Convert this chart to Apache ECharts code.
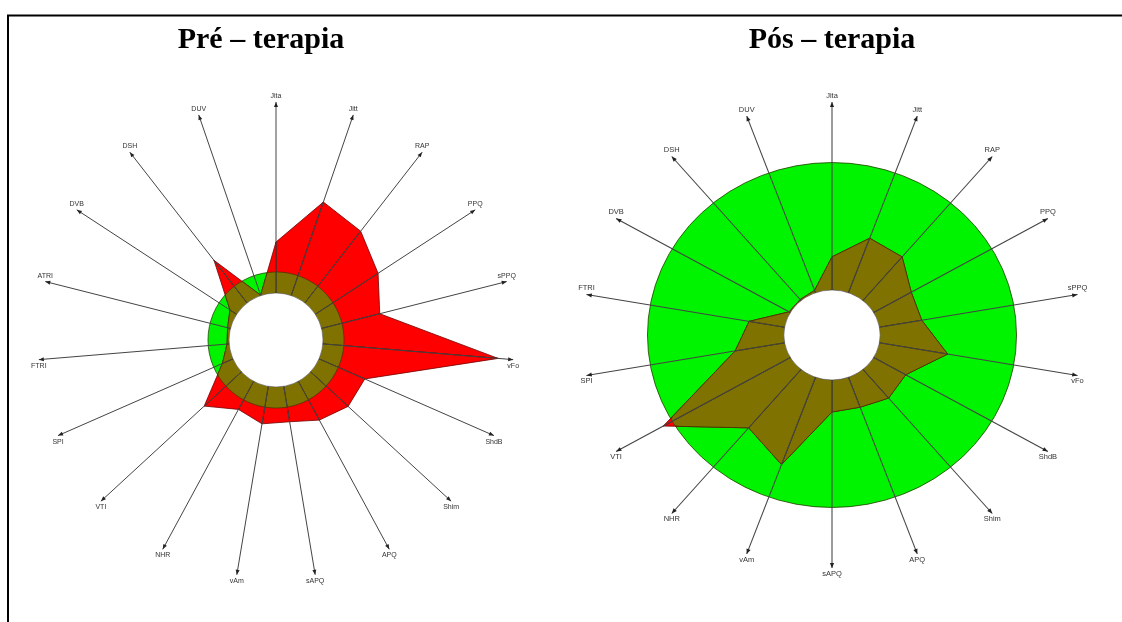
<!DOCTYPE html>
<html>
<head>
<meta charset="utf-8">
<title>MDVP - Pré / Pós terapia</title>
<script src="https://cdn.jsdelivr.net/npm/echarts@6/dist/echarts.min.js"></script>
<style>
  html, body { margin: 0; padding: 0; background: #fff; }
  #chart { width: 1122px; height: 622px; }
</style>
</head>
<body>
<div id="chart"></div>
<script>
// parametros MDVP, sentido horario a partir do topo
var paramsPre = ['Jita', 'Jitt', 'RAP', 'PPQ', 'sPPQ', 'vFo', 'ShdB', 'Shim', 'APQ', 'sAPQ', 'vAm', 'NHR', 'VTI', 'SPI', 'FTRI', 'ATRI', 'DVB', 'DSH', 'DUV'];
var paramsPos = ['Jita', 'Jitt', 'RAP', 'PPQ', 'sPPQ', 'vFo', 'ShdB', 'Shim', 'APQ', 'sAPQ', 'vAm', 'NHR', 'VTI', 'SPI', 'FTRI', 'DVB', 'DSH', 'DUV'];

// valores normalizados (1 = limiar da norma, circulo verde)
var valuesPre = [2.43, 4.71, 4.33, 3.57, 2.86, 8.38, 2.38, 2.43, 2.10, 1.71, 1.81, 1.52, 2.41, 0.55, 0.10, 0.14, 0.38, 2.57, 0.02];
var valuesPos = [0.26, 0.455, 0.447, 0.318, 0.315, 0.508, 0.271, 0.293, 0.25, 0.251, 0.729, 0.598, 1.075, 0.368, 0.264, 0.01, 0.01, 0.02];

var limitPre = 1;
var limitPos = 1;
var axisMaxPre = 9.1;
var axisMaxPos = 1.475;
var titles = ['Pré – terapia', 'Pós – terapia'];

// layout dos dois paineis
var panels = [
  { center: [276, 340], radius: [47, 238], stretch: 1, titleX: 261 },
  { center: [832, 335], radius: [45, 233], stretch: 1.07, titleX: 832 }
];

var GREEN = '#00f400', RED = '#ff0000', OLIVE = '#807200';

function dist(c, p) { return Math.sqrt((p[0] - c[0]) * (p[0] - c[0]) + (p[1] - c[1]) * (p[1] - c[1])); }

function wrap(params, k, children) {
  var cs = params.coordSys;
  var cx = cs && cs.cx != null ? cs.cx : panels[k].center[0];
  var cy = cs && cs.cy != null ? cs.cy : panels[k].center[1];
  return {
    type: 'group',
    scaleX: panels[k].stretch, scaleY: 1,
    originX: cx, originY: cy,
    children: children
  };
}

function centerOf(params, k) {
  var cs = params.coordSys;
  if (cs && cs.cx != null) return [cs.cx, cs.cy];
  return panels[k].center;
}

function makeSeries(k, cats, vals, limit, axisMax) {
  var n = cats.length;
  var list = [];

  // circulo verde do limiar
  list.push({
    type: 'custom', coordinateSystem: 'polar', polarIndex: k, z: 1, clip: false, silent: true,
    data: [[limit, 0]],
    renderItem: function (params, api) {
      var c = centerOf(params, k);
      var R = dist(c, api.coord([api.value(0), 0]));
      return wrap(params, k, [{
        type: 'circle', shape: { cx: c[0], cy: c[1], r: R },
        style: { fill: GREEN, stroke: '#224400', lineWidth: 0.8 }
      }]);
    }
  });

  // poligono dos valores (vermelho fora da norma)
  list.push({
    type: 'custom', coordinateSystem: 'polar', polarIndex: k, z: 2, clip: false, silent: true,
    data: vals.map(function (v, i) { return [v, i]; }),
    renderItem: function (params, api) {
      var i = params.dataIndex, j = (i + 1) % n;
      var pts = [api.coord([0, i]), api.coord([api.value(0), i]), api.coord([api.value(0, j), i + 1]), api.coord([0, i + 1])];
      return wrap(params, k, [{
        type: 'polygon', shape: { points: pts },
        style: { fill: RED, stroke: '#700000', lineWidth: 0.8 }
      }]);
    }
  });

  // parte do poligono dentro do limiar (oliva)
  list.push({
    type: 'custom', coordinateSystem: 'polar', polarIndex: k, z: 3, clip: false, silent: true,
    data: vals.map(function (v, i) { return [v, i]; }),
    renderItem: function (params, api) {
      var c = centerOf(params, k);
      var i = params.dataIndex, j = (i + 1) % n;
      var RT = dist(c, api.coord([limit, i]));
      var a = api.coord([api.value(0), i]);
      var b = api.coord([api.value(0, j), i + 1]);
      var pts = [api.coord([0, i])];
      var steps = 16;
      for (var s = 0; s <= steps; s++) {
        var t = s / steps;
        var p = [a[0] + (b[0] - a[0]) * t, a[1] + (b[1] - a[1]) * t];
        var d = dist(c, p);
        if (d > RT) p = [c[0] + (p[0] - c[0]) * RT / d, c[1] + (p[1] - c[1]) * RT / d];
        pts.push(p);
      }
      pts.push(api.coord([0, i + 1]));
      return wrap(params, k, [{
        type: 'polygon', shape: { points: pts },
        style: { fill: OLIVE, stroke: '#3a3300', lineWidth: 0.7 }
      }]);
    }
  });

  // furo central
  list.push({
    type: 'custom', coordinateSystem: 'polar', polarIndex: k, z: 4, clip: false, silent: true,
    data: [[0, 0]],
    renderItem: function (params, api) {
      var c = centerOf(params, k);
      var r0 = dist(c, api.coord([0, 0]));
      return wrap(params, k, [{
        type: 'circle', shape: { cx: c[0], cy: c[1], r: r0 },
        style: { fill: '#fff', stroke: '#555', lineWidth: 0.6 }
      }]);
    }
  });

  // eixos com setas e rotulos
  list.push({
    type: 'custom', coordinateSystem: 'polar', polarIndex: k, z: 5, clip: false, silent: true,
    data: cats.map(function (c, i) { return [axisMax, i, c]; }),
    renderItem: function (params, api) {
      var c = centerOf(params, k);
      var i = params.dataIndex;
      var s = api.coord([0, i]);
      var e = api.coord([api.value(0), i]);
      var L = dist(s, e);
      var u = [(e[0] - s[0]) / L, (e[1] - s[1]) / L];
      var w = [-u[1], u[0]];
      var head = [e,
        [e[0] - 5 * u[0] + 2 * w[0], e[1] - 5 * u[1] + 2 * w[1]],
        [e[0] - 5 * u[0] - 2 * w[0], e[1] - 5 * u[1] - 2 * w[1]]];
      var above = e[1] < c[1];
      return wrap(params, k, [
        { type: 'line', shape: { x1: s[0], y1: s[1], x2: e[0], y2: e[1] }, style: { stroke: '#444', lineWidth: 1 } },
        { type: 'polygon', shape: { points: head }, style: { fill: '#222' } },
        {
          type: 'text',
          style: {
            text: cats[i], x: e[0], y: above ? e[1] - 2.5 : e[1] + 2.5,
            align: 'center', verticalAlign: above ? 'bottom' : 'top',
            fill: '#333', font: '7px "Liberation Sans", Arial, sans-serif'
          }
        }
      ]);
    }
  });

  return list;
}

var chart = echarts.init(document.getElementById('chart'), null, { renderer: 'canvas' });

var option = {
  backgroundColor: '#fff',
  animation: false,
  title: titles.map(function (t, k) {
    return {
      text: t, left: panels[k].titleX, top: 25, textAlign: 'center', padding: 0,
      textStyle: { fontFamily: '"Liberation Serif", "Times New Roman", serif', fontWeight: 'bold', fontSize: 30, color: '#000' }
    };
  }),
  polar: panels.map(function (p) { return { center: p.center, radius: p.radius }; }),
  angleAxis: [
    { polarIndex: 0, type: 'value', min: 0, max: paramsPre.length, startAngle: 90, clockwise: true, show: false },
    { polarIndex: 1, type: 'value', min: 0, max: paramsPos.length, startAngle: 90, clockwise: true, show: false }
  ],
  radiusAxis: [
    { polarIndex: 0, type: 'value', min: 0, max: axisMaxPre, show: false },
    { polarIndex: 1, type: 'value', min: 0, max: axisMaxPos, show: false }
  ],
  graphic: [
    { type: 'line', shape: { x1: 7, y1: 15.5, x2: 1122, y2: 15.5 }, style: { stroke: '#000', lineWidth: 2 } },
    { type: 'line', shape: { x1: 8, y1: 15, x2: 8, y2: 622 }, style: { stroke: '#000', lineWidth: 2 } }
  ],
  series: makeSeries(0, paramsPre, valuesPre, limitPre, axisMaxPre)
    .concat(makeSeries(1, paramsPos, valuesPos, limitPos, axisMaxPos))
};

chart.setOption(option);
</script>
</body>
</html>
